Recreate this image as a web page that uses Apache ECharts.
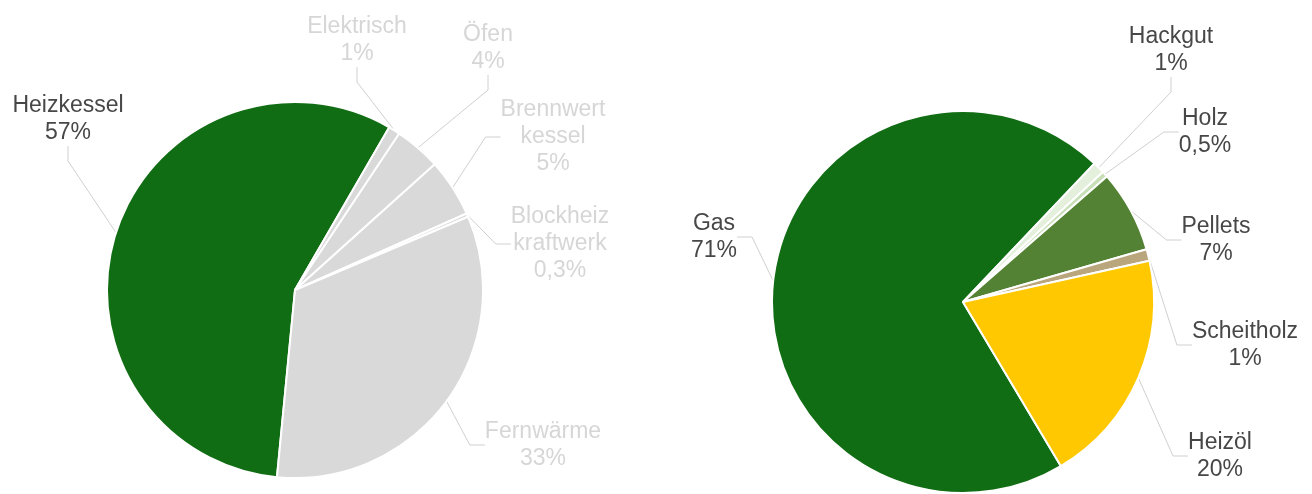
<!DOCTYPE html>
<html lang="de">
<head>
<meta charset="utf-8">
<title>Heizsysteme</title>
<script src="https://cdn.jsdelivr.net/npm/echarts@6/dist/echarts.min.js"></script>
<style>
  html, body { margin: 0; padding: 0; background: #ffffff; }
  #chart { width: 1312px; height: 494px; }
</style>
</head>
<body>
<div id="chart"></div>
<script>
// Left pie: type of heating system
const systemNames = ['Heizkessel', 'Elektrisch', 'Öfen', 'Brennwert\nkessel', 'Blockheiz\nkraftwerk', 'Fernwärme'];
const systemShares = [57, 1, 4, 5, 0.3, 33];

// Right pie: fuel used
const fuelNames = ['Gas', 'Hackgut', 'Holz', 'Pellets', 'Scheitholz', 'Heizöl'];
const fuelShares = [71, 1, 0.5, 7, 1, 20];

// Styling
const systemColors = ['#116d14', '#d9d9d9', '#d9d9d9', '#d9d9d9', '#d9d9d9', '#d9d9d9'];
const systemTextColors = ['#474747', '#d6d6d6', '#d6d6d6', '#d6d6d6', '#d6d6d6', '#d6d6d6'];
const fuelColors = ['#116d14', '#e4f0dc', '#c8dfb8', '#548235', '#b9a67c', '#ffc800'];

// Label anchor points (centre of each label block), per series
const labelAnchors = [
  [[68, 119], [357, 40], [488, 48], [553, 137], [560, 244], [543, 445]],
  [[714, 237], [1171, 50], [1205, 132], [1216, 240], [1245, 345], [1220, 456]]
];

const fmtPct = v => String(v).replace('.', ',') + '%';

function buildData(names, values, colors, textColors) {
  return names.map((n, i) => ({
    name: n,
    value: values[i],
    itemStyle: { color: colors[i] },
    label: { color: textColors ? textColors[i] : '#474747' }
  }));
}

function pieSeries(data, center, radius, startAngle, anchors) {
  return {
    type: 'pie',
    center: center,
    radius: radius,
    startAngle: startAngle,
    clockwise: true,
    avoidLabelOverlap: false,
    animation: false,
    itemStyle: { borderColor: '#ffffff', borderWidth: 2 },
    label: {
      show: true,
      position: 'outside',
      fontFamily: 'Liberation Sans, Arial, sans-serif',
      fontSize: 23,
      lineHeight: 27,
      align: 'center',
      formatter: p => p.name + '\n' + fmtPct(p.value)
    },
    labelLine: {
      show: true,
      length: 15,
      length2: 15,
      lineStyle: { color: '#d0d0d0', width: 1 }
    },
    // Place each label at its anchor; ECharts redraws the guide line to the slice.
    labelLayout: params => {
      const a = anchors[params.dataIndex];
      return { x: a[0], y: a[1], align: 'center', verticalAlign: 'middle' };
    },
    emphasis: { disabled: true },
    data: data
  };
}

const chart = echarts.init(document.getElementById('chart'), null, { renderer: 'canvas' });
chart.setOption({
  backgroundColor: '#ffffff',
  series: [
    pieSeries(buildData(systemNames, systemShares, systemColors, systemTextColors), [295, 290], 188, 264.5, labelAnchors[0]),
    pieSeries(buildData(fuelNames, fuelShares, fuelColors, null), [963, 302], 191, 300.8, labelAnchors[1])
  ]
});
</script>
</body>
</html>
